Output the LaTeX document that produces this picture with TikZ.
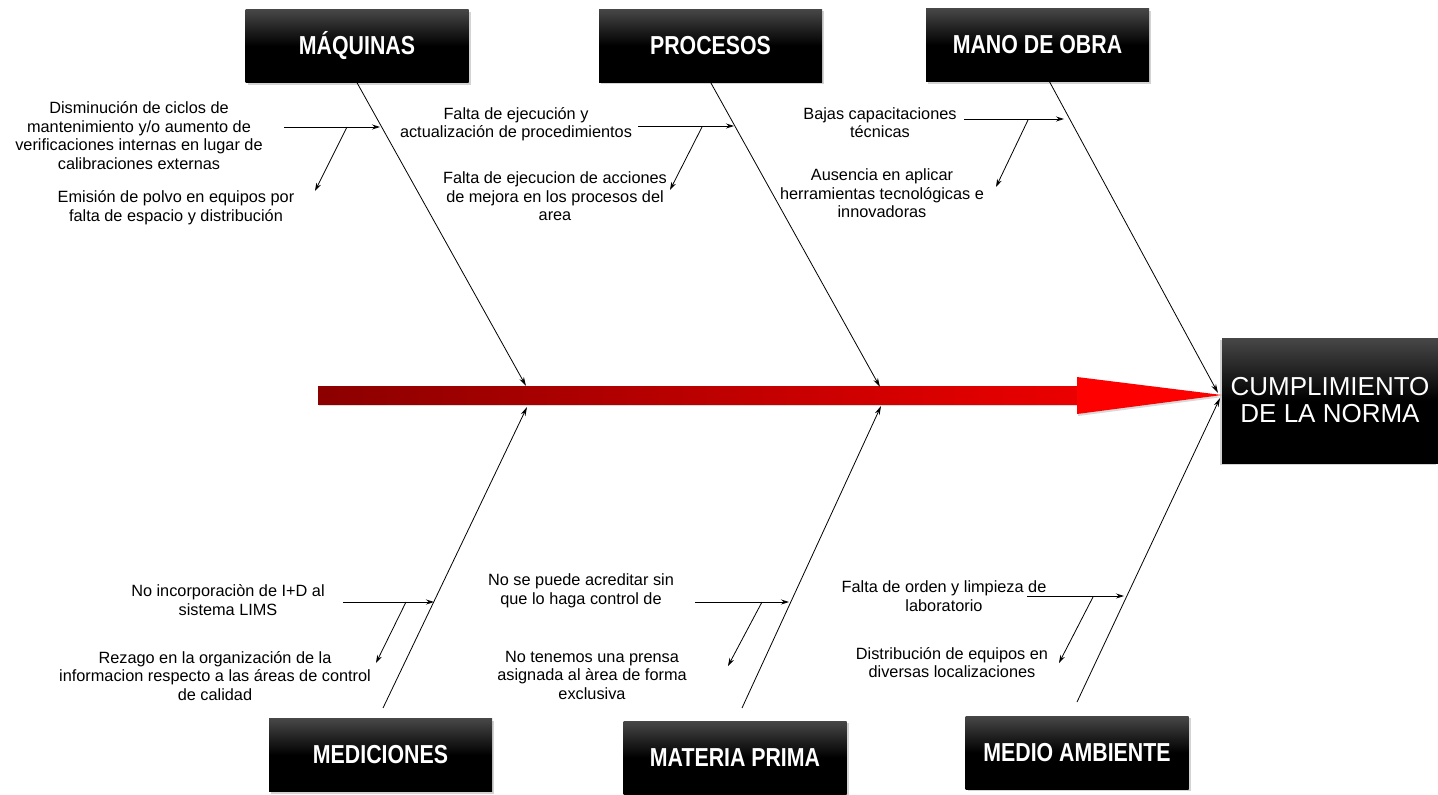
\documentclass[tikz,border=0pt]{standalone}
\usepackage{fontspec}
\setmainfont{Liberation Sans}
\newfontfamily\headfont[FakeStretch=0.82]{Liberation Sans Bold}
\usepackage{tikz}
\usetikzlibrary{arrows.meta,positioning,shadows,calc}
\definecolor{SpineDark}{RGB}{140,0,0}
\definecolor{SpineRed}{RGB}{235,0,0}
\definecolor{HeadRed}{RGB}{255,0,0}

\begin{document}
\begin{tikzpicture}[x=1pt,y=-1pt,
  every node/.style={font=\fontsize{16.3}{18.5}\selectfont},
  catbox/.style={minimum width=223pt,minimum height=73pt,inner sep=0pt,
    top color=black!72,bottom color=black,middle color=black,text=white,
    font=\headfont\fontsize{26}{28}\selectfont,
    drop shadow={opacity=0.35,shadow xshift=2pt,shadow yshift=-2pt}},
  cause/.style={align=center,inner sep=0pt},
  bone/.style={line width=0.8pt,-{Stealth[length=9pt,width=5pt]}},
  subarrow/.style={line width=0.8pt,-{Stealth[length=8pt,width=5pt]}}]
\useasboundingbox (0,0) rectangle (1438,795);

\fill[left color=SpineDark,right color=SpineRed,
  drop shadow={opacity=0.3,shadow xshift=1pt,shadow yshift=-2pt}] (318,386) rectangle (1079,404);
\fill[HeadRed,drop shadow={opacity=0.3,shadow xshift=1pt,shadow yshift=-2pt}]
  (1077,377) -- (1222,395) -- (1077,414) -- cycle;

\node[catbox] (maq) at (357,46) {MÁQUINAS};
\node[catbox] (proc) at (710.5,45.5) {PROCESOS};
\node[catbox] (mano) at (1037.5,45) {MANO DE OBRA};
\node[catbox] (medi) at (380.5,755) {MEDICIONES};
\node[catbox] (mat) at (735,757.5) {MATERIA PRIMA};
\node[catbox] (amb) at (1077,752.5) {MEDIO AMBIENTE};
\node[minimum width=216pt,minimum height=125pt,inner sep=0pt,align=center,
  top color=black!72,bottom color=black,middle color=black,text=white,
  font=\fontsize{26}{27}\selectfont,
  drop shadow={opacity=0.35,shadow xshift=-2pt,shadow yshift=-2pt}]
  (norma) at (1330,400.5) {CUMPLIMIENTO\\DE LA NORMA};

\coordinate (maqtip) at (526,386);
\coordinate (proctip) at (880,387);
\coordinate (manotip) at (1218,393);
\coordinate (meditip) at (527,407);
\coordinate (mattip) at (881,406);
\coordinate (ambtip) at (1220,398);
\coordinate (medibase) at (383,708);
\coordinate (matbase) at (742,708);
\coordinate (ambbase) at (1077,702);

\draw[bone] (maq.south) -- (maqtip);
\draw[bone] (proc.south) -- (proctip);
\draw[bone] ([xshift=12pt]mano.south) -- (manotip);
\draw[bone] (medibase) -- (meditip);
\draw[bone] (matbase) -- (mattip);
\draw[bone] (ambbase) -- (ambtip);

\node[cause] (maqa) at (139,135.5) {Disminución de ciclos de\\mantenimiento y/o aumento de\\verificaciones internas en lugar de\\calibraciones externas};
\node[cause] (maqb) at (176,207.5) {Emisión de polvo en equipos por\\falta de espacio y distribución};
\node[cause] (proca) at (516,124) {Falta de ejecución y\\actualización de procedimientos};
\node[cause] (procb) at (555,196.5) {Falta de ejecucion de acciones\\de mejora en los procesos del\\area};
\node[cause] (manoa) at (880,122.5) {Bajas capacitaciones\\técnicas};
\node[cause] (manob) at (882,193.5) {Ausencia en aplicar\\herramientas tecnológicas e\\innovadoras};
\node[cause] (media) at (228,600) {No incorporaciòn de I+D al\\sistema LIMS};
\node[cause] (medib) at (215,676) {Rezago en la organización de la\\informacion respecto a las áreas de control\\de calidad};
\node[cause] (mata) at (581,591) {No se puede acreditar sin\\que lo haga control de};
\node[cause] (matb) at (592,675) {No tenemos una prensa\\asignada al àrea de forma\\exclusiva};
\node[cause] (amba) at (944,596) {Falta de orden y limpieza de\\laboratorio};
\node[cause] (ambb) at (952,662.5) {Distribución de equipos en\\diversas localizaciones};

\coordinate (maqh1) at (284,127);  \coordinate (maqh2) at (380,127);
\coordinate (maqd1) at (347,127);  \coordinate (maqd2) at (315,191);
\coordinate (proch1) at (638,126); \coordinate (proch2) at (734,126);
\coordinate (procd1) at (702,127); \coordinate (procd2) at (670,190);
\coordinate (manoh1) at (964,119); \coordinate (manoh2) at (1064,119);
\coordinate (manod1) at (1028,120); \coordinate (manod2) at (996,187);
\coordinate (medih1) at (343,602); \coordinate (medih2) at (434,602);
\coordinate (medid1) at (406,602); \coordinate (medid2) at (376,663);
\coordinate (math1) at (695,602);  \coordinate (math2) at (789,602);
\coordinate (matd1) at (762,602);  \coordinate (matd2) at (728,666);
\coordinate (ambh1) at (1027,596); \coordinate (ambh2) at (1124,596);
\coordinate (ambd1) at (1093,597); \coordinate (ambd2) at (1059,663);

\foreach \n in {maq,proc,mano,medi,mat,amb}{
  \draw[subarrow] (\n h1) -- (\n h2);
  \draw[subarrow] (\n d1) -- (\n d2);
}
\end{tikzpicture}
\end{document}
